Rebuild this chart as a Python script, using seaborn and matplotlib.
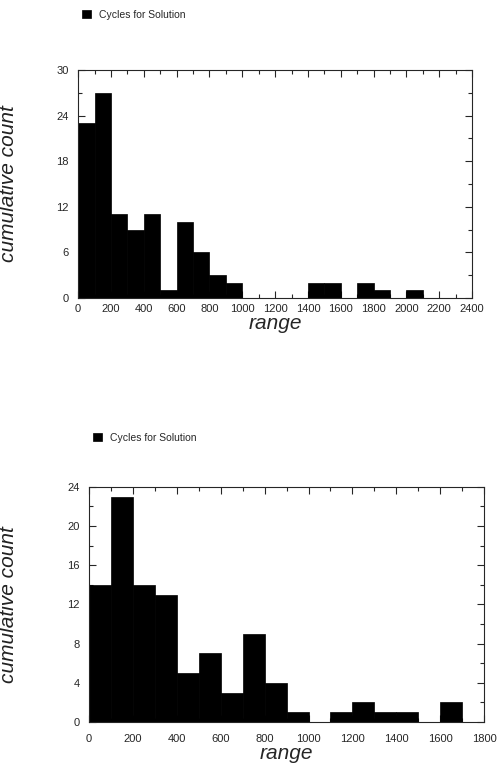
import numpy as np
import pandas as pd
import matplotlib
matplotlib.use("Agg")
import matplotlib.pyplot as plt
import seaborn as sns
from matplotlib.ticker import MultipleLocator

sns.set_style("ticks")
plt.rcParams['font.family'] = ['Liberation Sans', 'DejaVu Sans']

# histograma de cima: classes de 100 entre 0 e 2400
bins_top = list(range(0, 2500, 100))
counts_top = [23, 27, 11, 9, 11, 1, 10, 6, 3, 2, 0, 0, 0, 0, 2, 2, 0, 2, 1, 0, 1, 0, 0, 0]

# histograma de baixo: classes de 100 entre 0 e 1800
bins_bottom = list(range(0, 1900, 100))
counts_bottom = [14, 23, 14, 13, 5, 7, 3, 9, 4, 1, 0, 1, 2, 1, 1, 0, 2, 0]

legend_label = "Cycles for Solution"

fig = plt.figure(figsize=(4.98, 7.68), dpi=100)
ax1 = fig.add_axes([0.157, 0.612, 0.791, 0.297])
ax2 = fig.add_axes([0.179, 0.060, 0.793, 0.306])


def draw(ax, bins, counts, ymax, ystep, xmax, xpad):
    df = pd.DataFrame({"range": np.array(bins[:-1]) + 50, "count": counts})
    sns.histplot(data=df, x="range", weights="count", bins=bins, ax=ax,
                 color="black", alpha=1, edgecolor="black", linewidth=0.5,
                 label=legend_label)
    ax.set_xlim(0, xmax)
    ax.set_ylim(0, ymax)
    ax.xaxis.set_major_locator(MultipleLocator(200))
    ax.xaxis.set_minor_locator(MultipleLocator(100))
    ax.yaxis.set_major_locator(MultipleLocator(ystep))
    ax.yaxis.set_minor_locator(MultipleLocator(ystep / 2))
    ax.tick_params(which="both", direction="in", top=True, right=True,
                   labelsize=8, width=0.8)
    ax.tick_params(which="major", length=5)
    ax.tick_params(which="minor", length=3)
    ax.tick_params(axis="x", pad=xpad)
    ax.tick_params(axis="y", pad=7)
    for s in ax.spines.values():
        s.set_linewidth(0.8)
    ax.set_xlabel("range", fontsize=15, style="italic", labelpad=0)
    ax.set_ylabel("cumulative count", fontsize=15, style="italic", color="#222222")
    ax.legend(loc="lower left", bbox_to_anchor=(0.0, 1.05), frameon=False,
              fontsize=7.5, handlelength=0.8, handleheight=0.8, borderaxespad=0)


draw(ax1, bins_top, counts_top, 30, 6, 2400, 4)
draw(ax2, bins_bottom, counts_bottom, 24, 4, 1800, 9)
ax1.yaxis.set_label_coords(-0.152, 0.5)
ax1.legend_.set_bbox_to_anchor((0.0, 1.20))
ax2.yaxis.set_label_coords(-0.18, 0.5)
ax2.legend_.set_bbox_to_anchor((0.0, 1.17))

fig.savefig("out.png", dpi=100)
